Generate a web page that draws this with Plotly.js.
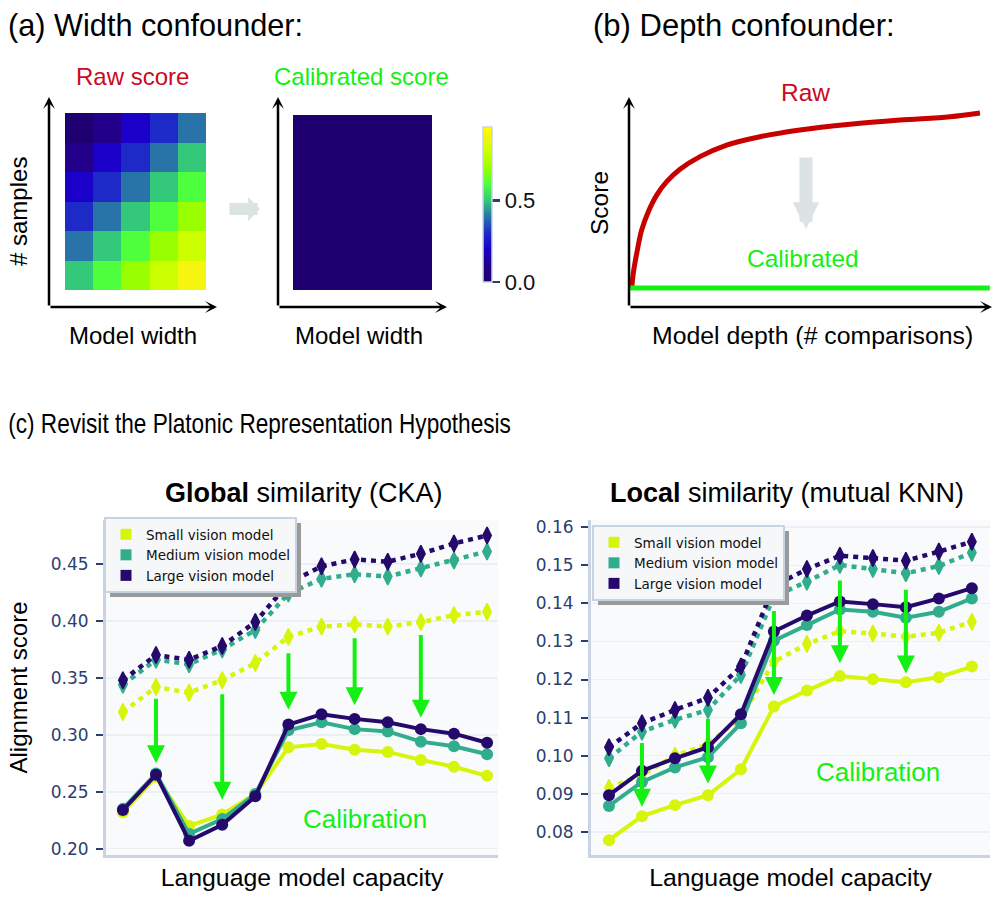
<!DOCTYPE html>
<html><head><meta charset="utf-8">
<script src="https://cdn.plot.ly/plotly-3.0.1.min.js"></script>
<style>html,body{margin:0;padding:0;background:#fff}#chart{width:997px;height:905px}</style>
</head><body><div id="chart"></div>
<script>
// ---------- data ----------
const widthBins = [0, 1, 2, 3, 4];
const sampleBins = [0, 1, 2, 3, 4, 5];           // bottom row first
const rawScore = [
  [0.5, 0.6, 0.7, 0.8, 0.9],
  [0.4, 0.5, 0.6, 0.7, 0.8],
  [0.3, 0.4, 0.5, 0.6, 0.7],
  [0.2, 0.3, 0.4, 0.5, 0.6],
  [0.1, 0.2, 0.3, 0.4, 0.5],
  [0.0, 0.1, 0.2, 0.3, 0.4]
];
const calibratedScore = [
  [0, 0, 0, 0, 0], [0, 0, 0, 0, 0], [0, 0, 0, 0, 0],
  [0, 0, 0, 0, 0], [0, 0, 0, 0, 0], [0, 0, 0, 0, 0]
];
const colorTicks = [0, 0.5];
const colorTickText = ['0.0', '0.5'];

const depth = [0.074, 0.118, 0.212, 0.350, 0.532, 0.763, 1.039, 1.405, 1.956, 2.691, 3.609, 4.711, 6.088, 7.466, 8.843, 9.669];
const rawDepthScore = [0.089, 0.160, 0.255, 0.367, 0.454, 0.533, 0.597, 0.656, 0.716, 0.771, 0.811, 0.843, 0.870, 0.890, 0.906, 0.924];
const calibDepth = [0.03, 9.94];
const calibDepthScore = [0.09, 0.09];

const lmCapacity = [0, 1, 2, 3, 4, 5, 6, 7, 8, 9, 10, 11];
const seriesNames = ['Small vision model', 'Medium vision model', 'Large vision model'];

const ckaRawSmall  = [0.320, 0.342, 0.337, 0.348, 0.363, 0.386, 0.395, 0.397, 0.395, 0.399, 0.405, 0.408];
const ckaRawMedium = [0.344, 0.366, 0.362, 0.375, 0.392, 0.424, 0.437, 0.441, 0.439, 0.446, 0.453, 0.461];
const ckaRawLarge  = [0.348, 0.370, 0.366, 0.378, 0.399, 0.433, 0.448, 0.454, 0.452, 0.459, 0.468, 0.475];
const ckaCalSmall  = [0.232, 0.263, 0.220, 0.230, 0.248, 0.289, 0.292, 0.287, 0.285, 0.278, 0.272, 0.264];
const ckaCalMedium = [0.235, 0.266, 0.213, 0.226, 0.248, 0.304, 0.311, 0.305, 0.303, 0.294, 0.290, 0.283];
const ckaCalLarge  = [0.234, 0.265, 0.207, 0.221, 0.246, 0.309, 0.318, 0.314, 0.311, 0.305, 0.301, 0.293];
const ckaTicks = [0.20, 0.25, 0.30, 0.35, 0.40, 0.45];

const knnRawSmall  = [0.0915, 0.0950, 0.1000, 0.1030, 0.1100, 0.1247, 0.1293, 0.1327, 0.1321, 0.1312, 0.1323, 0.1352];
const knnRawMedium = [0.0993, 0.1063, 0.1094, 0.1120, 0.1212, 0.1418, 0.1457, 0.1501, 0.1490, 0.1479, 0.1498, 0.1533];
const knnRawLarge  = [0.1022, 0.1085, 0.1120, 0.1152, 0.1234, 0.1446, 0.1490, 0.1525, 0.1519, 0.1512, 0.1536, 0.1562];
const knnCalSmall  = [0.0778, 0.0841, 0.0870, 0.0896, 0.0964, 0.1129, 0.1171, 0.1209, 0.1201, 0.1193, 0.1206, 0.1234];
const knnCalMedium = [0.0868, 0.0931, 0.0969, 0.0996, 0.1085, 0.1302, 0.1343, 0.1384, 0.1378, 0.1362, 0.1378, 0.1413];
const knnCalLarge  = [0.0896, 0.0960, 0.0993, 0.1022, 0.1109, 0.1326, 0.1368, 0.1405, 0.1398, 0.1390, 0.1413, 0.1440];
const knnTicks = [0.08, 0.09, 0.10, 0.11, 0.12, 0.13, 0.14, 0.15, 0.16];

const arrowIdx = [1, 3, 5, 7, 9];
const ckaArrowFrom = [0.333, 0.337, 0.373, 0.386, 0.389];
const ckaArrowTo   = [0.275, 0.243, 0.322, 0.326, 0.315];
const knnArrowFrom = [0.1037, 0.1101, 0.1384, 0.1464, 0.1440];
const knnArrowTo   = [0.0866, 0.0927, 0.1159, 0.1243, 0.1216];

// ---------- styling ----------
const W = 997, H = 905;
const px = v => v / W, py = v => 1 - v / H;
const cSmall = '#d6f50a', cMed = '#31ad8d', cLarge = '#26096c';
const green = '#14f014', red = '#cc0a1f', arrowGray = '#dce3e3';
const tickBlue = '#2a3f6f', axisLine = '#c8d4e3', gridC = '#eceff3';
const serif = 'Liberation Sans, Arial, sans-serif';
const dvs = 'DejaVu Sans, Verdana, sans-serif';

const colorscale = [
  [0.000, '#1f0070'], [0.105, '#22008a'], [0.2105, '#1a00c8'], [0.3158, '#1e2ac8'],
  [0.421, '#2873a8'], [0.526, '#33c87a'], [0.6316, '#4dff3c'], [0.7368, '#99ff00'],
  [0.842, '#ccff00'], [0.947, '#f5f510'], [1.0, '#ffff00']
];

const traces = [];
traces.push({type: 'heatmap', x: widthBins, y: sampleBins, z: rawScore, coloraxis: 'coloraxis',
  xaxis: 'x', yaxis: 'y', hoverinfo: 'skip', showlegend: false, name: 'Raw score'});
traces.push({type: 'heatmap', x: widthBins, y: sampleBins, z: calibratedScore, coloraxis: 'coloraxis',
  xaxis: 'x2', yaxis: 'y2', hoverinfo: 'skip', showlegend: false, name: 'Calibrated score'});
traces.push({type: 'scatter', mode: 'lines', x: depth, y: rawDepthScore, xaxis: 'x3', yaxis: 'y3',
  line: {color: '#c80000', width: 5, shape: 'spline', smoothing: 1.0}, showlegend: false, name: 'Raw'});
traces.push({type: 'scatter', mode: 'lines', x: calibDepth, y: calibDepthScore, xaxis: 'x3', yaxis: 'y3',
  line: {color: green, width: 5}, showlegend: false, name: 'Calibrated'});

function addPanel(xa, ya, raws, cals, legendId) {
  const cols = [cSmall, cMed, cLarge];
  raws.forEach((arr, i) => traces.push({type: 'scatter', mode: 'lines+markers', x: lmCapacity, y: arr,
    xaxis: xa, yaxis: ya, showlegend: false, name: seriesNames[i] + ' (raw)',
    line: {color: cols[i], width: 4.5, dash: '5px,5px'},
    marker: {symbol: 'diamond-tall', size: 12, color: cols[i], line: {color: cols[i], width: 1.5}}}));
  cals.forEach((arr, i) => traces.push({type: 'scatter', mode: 'lines+markers', x: lmCapacity, y: arr,
    xaxis: xa, yaxis: ya, showlegend: false, name: seriesNames[i] + ' (calibrated)',
    line: {color: cols[i], width: 4}, marker: {symbol: 'circle', size: 12, color: cols[i]}}));
  seriesNames.forEach((n, i) => traces.push({type: 'scatter', mode: 'markers', x: [null], y: [null],
    xaxis: xa, yaxis: ya, name: n, legend: legendId, showlegend: true,
    marker: {symbol: 'square', size: 11, color: cols[i]}}));
}
addPanel('x4', 'y4', [ckaRawSmall, ckaRawMedium, ckaRawLarge], [ckaCalSmall, ckaCalMedium, ckaCalLarge], 'legend');
addPanel('x5', 'y5', [knnRawSmall, knnRawMedium, knnRawLarge], [knnCalSmall, knnCalMedium, knnCalLarge], 'legend2');

const ann = [];
function txt(text, x, y, size, opts) {
  ann.push(Object.assign({text: text, x: px(x), y: py(y), xref: 'paper', yref: 'paper', showarrow: false,
    xanchor: 'center', yanchor: 'middle', font: {size: size, family: serif, color: '#000'}}, opts || {}));
}
txt('(a) Width confounder:', 6, 26, 30.7, {xanchor: 'left'});
txt('(b) Depth confounder:', 591, 26, 31, {xanchor: 'left'});
txt('(c) Revisit the Platonic Representation Hypothesis', 6, 424, 27, {xanchor: 'left'});
txt('Raw score', 132, 76, 24, {font: {size: 24, family: serif, color: red}});
txt('Calibrated score', 361, 76, 24, {font: {size: 24, family: serif, color: green}});
txt('Model width', 133, 335, 24);
txt('Model width', 359, 335, 24);
txt('# samples', 18, 212, 24, {textangle: -90});
txt('Raw', 805, 92, 24.5, {font: {size: 24.5, family: serif, color: red}});
txt('Calibrated', 803, 258, 24.5, {font: {size: 24.5, family: serif, color: green}});
txt('Score', 600, 203, 24.5, {textangle: -90});
txt('Model depth (# comparisons)', 812, 335, 24.8);
txt('<b>Global</b> similarity (CKA)', 304, 493, 27);
txt('<b>Local</b> similarity (mutual KNN)', 787, 493, 27);
txt('Calibration', 365, 819, 26, {font: {size: 26, family: serif, color: green}});
txt('Calibration', 878, 772, 26, {font: {size: 26, family: serif, color: green}});

function arrowPx(xTip, yTip, dx, dy, color, width, head, size) {
  ann.push({text: '', x: px(xTip), y: py(yTip), xref: 'paper', yref: 'paper', showarrow: true,
    axref: 'pixel', ayref: 'pixel', ax: dx, ay: dy, arrowcolor: color, arrowwidth: width,
    arrowhead: head, arrowsize: size, standoff: 0, startstandoff: 0});
}
// axis arrows for (a) and (b)
arrowPx(49, 97, 0, 210, '#000', 2.5, 3, 0.8);
arrowPx(217, 307, -168, 0, '#000', 2.5, 3, 0.8);
arrowPx(278, 97, 0, 210, '#000', 2.5, 3, 0.8);
arrowPx(447, 307, -169, 0, '#000', 2.5, 3, 0.8);
arrowPx(629, 97, 0, 210, '#000', 2.5, 3, 0.8);
arrowPx(992, 307, -363, 0, '#000', 2.5, 3, 0.8);
// gray transformation arrows
arrowPx(260, 209, -32, 0, arrowGray, 12, 1, 0.33);
arrowPx(806, 229, 0, -73, arrowGray, 13, 2, 0.41);

// green calibration arrows in (c)
arrowIdx.forEach((xi, k) => {
  ann.push({text: '', x: xi, y: ckaArrowTo[k], xref: 'x4', yref: 'y4', axref: 'x4', ayref: 'y4',
    ax: xi, ay: ckaArrowFrom[k], showarrow: true, arrowcolor: green, arrowwidth: 4, arrowhead: 2,
    arrowsize: 0.9, standoff: 0});
  ann.push({text: '', x: xi, y: knnArrowTo[k], xref: 'x5', yref: 'y5', axref: 'x5', ayref: 'y5',
    ax: xi, ay: knnArrowFrom[k], showarrow: true, arrowcolor: green, arrowwidth: 4, arrowhead: 2,
    arrowsize: 0.9, standoff: 0});
});

const hidden = {visible: false, fixedrange: true};
const panelX = (d, r) => ({domain: d, range: r, showticklabels: false, ticks: '', showline: true,
  linecolor: axisLine, linewidth: 3, showgrid: false, zeroline: false, fixedrange: true,
  title: {text: 'Language model capacity', font: {size: 24.8, family: serif, color: '#000'}, standoff: 12}});
const panelY = (d, r, tv, fmt, withTitle) => ({domain: d, range: r, tickvals: tv, tickformat: fmt,
  ticks: 'outside', ticklen: 7, tickwidth: 2, tickcolor: tickBlue, ticklabelstandoff: 4,
  tickfont: {family: dvs, size: 17, color: tickBlue}, showline: true, linecolor: axisLine, linewidth: 3,
  showgrid: true, gridcolor: gridC, gridwidth: 1.5, zeroline: false, fixedrange: true,
  title: withTitle ? {text: 'Alignment score', font: {size: 24, family: serif, color: '#000'}, standoff: 17} : {text: ''}});

const shapes = [
  {type: 'rect', xref: 'x4 domain', yref: 'y4 domain', x0: 0, x1: 1, y0: 0, y1: 1, fillcolor: '#f9fafb', line: {width: 0}, layer: 'below'},
  {type: 'rect', xref: 'x5 domain', yref: 'y5 domain', x0: 0, x1: 1, y0: 0, y1: 1, fillcolor: '#f9fafb', line: {width: 0}, layer: 'below'},
  // legend drop shadows (refined after render to the real legend boxes)
  {type: 'rect', xref: 'paper', yref: 'paper', x0: px(109), x1: px(299), y0: py(597), y1: py(522), fillcolor: '#9a9a9a', line: {width: 0}, layer: 'above'},
  {type: 'rect', xref: 'paper', yref: 'paper', x0: px(597), x1: px(787), y0: py(605), y1: py(530), fillcolor: '#9a9a9a', line: {width: 0}, layer: 'above'}
];

const legendBase = {xanchor: 'left', yanchor: 'top', bgcolor: '#f6f7f8', bordercolor: '#c5d3e2', borderwidth: 2,
  font: {family: dvs, size: 13.5, color: '#111'}, itemwidth: 30, tracegroupgap: 0, traceorder: 'normal'};

const layout = {
  width: W, height: H, margin: {l: 0, r: 0, t: 0, b: 0}, paper_bgcolor: '#ffffff', plot_bgcolor: 'rgba(0,0,0,0)',
  font: {family: serif, color: '#000'}, showlegend: true, hovermode: false,
  coloraxis: {cmin: 0, cmax: 0.95, colorscale: colorscale,
    colorbar: {x: px(483), xanchor: 'left', xref: 'paper', y: py(282), yanchor: 'bottom', yref: 'paper',
      len: 155, lenmode: 'pixels', thickness: 9, thicknessmode: 'pixels', xpad: 0, ypad: 0,
      outlinewidth: 1.5, outlinecolor: axisLine, tickvals: colorTicks, ticktext: colorTickText,
      ticks: 'outside', ticklen: 8, tickwidth: 2.5, tickcolor: tickBlue,
      tickfont: {size: 22, family: serif, color: '#111'}, borderwidth: 0}},
  xaxis: Object.assign({domain: [px(65), px(206)], range: [-0.5, 4.5]}, hidden),
  yaxis: Object.assign({domain: [py(290), py(113)], range: [-0.5, 5.5]}, hidden),
  xaxis2: Object.assign({domain: [px(293), px(432)], range: [-0.5, 4.5]}, hidden),
  yaxis2: Object.assign({domain: [py(290), py(115)], range: [-0.5, 5.5]}, hidden),
  xaxis3: Object.assign({domain: [px(629), px(992)], range: [0, 10]}, hidden),
  yaxis3: Object.assign({domain: [py(307), py(97)], range: [0, 1]}, hidden),
  xaxis4: Object.assign(panelX([px(106), px(498)], [-0.51, 11.33]), {anchor: 'y4'}),
  yaxis4: Object.assign(panelY([py(855), py(520)], [0.1945, 0.4886], ckaTicks, '.2f', true), {anchor: 'x4'}),
  xaxis5: Object.assign(panelX([px(591), px(990)], [-0.545, 11.55]), {anchor: 'y5'}),
  yaxis5: Object.assign(panelY([py(855), py(520)], [0.0739, 0.1619], knnTicks, '.2f', false), {anchor: 'x5'}),
  legend: Object.assign({x: px(104), y: py(517)}, legendBase),
  legend2: Object.assign({x: px(592), y: py(525)}, legendBase),
  annotations: ann,
  shapes: shapes
};

function condenseHeader() {
  // narrow (Arial-Narrow-like) section header: condense horizontally
  document.querySelectorAll('.annotation-text').forEach(t => {
    if (t.textContent.indexOf('Revisit') >= 0) {
      const b = t.getBBox();
      t.setAttribute('transform', `translate(${b.x},0) scale(0.838,1) translate(${-b.x},0)`);
    }
  });
}

Plotly.newPlot('chart', traces, layout, {displayModeBar: false, staticPlot: true}).then(gd => {
  // place drop shadows exactly behind the rendered legend boxes
  const upd = {};
  [['legend', 2], ['legend2', 3]].forEach(([cls, idx]) => {
    const r = document.querySelector('.infolayer .' + cls + ' rect.bg');
    if (!r) return;
    const bb = r.getBoundingClientRect();
    const off = 5;
    upd[`shapes[${idx}].x0`] = px(bb.left + off);
    upd[`shapes[${idx}].x1`] = px(bb.right + off);
    upd[`shapes[${idx}].y0`] = py(bb.bottom + off);
    upd[`shapes[${idx}].y1`] = py(bb.top + off);
  });
  condenseHeader();
  if (Object.keys(upd).length) {
    return Plotly.relayout(gd, upd).then(() => { condenseHeader(); });
  }
});
</script>
</body></html>
